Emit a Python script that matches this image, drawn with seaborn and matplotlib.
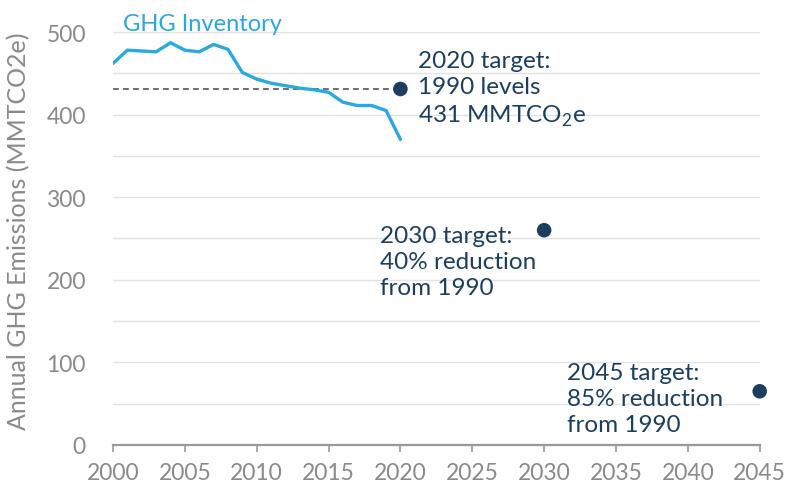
import numpy as np
import pandas as pd
import matplotlib
matplotlib.use("Agg")
import matplotlib.pyplot as plt
from matplotlib import font_manager
import seaborn as sns

# inventario anual
anos = list(range(2000, 2021))
inventario = [462, 478, 477, 476, 487, 478, 476, 485, 479, 451, 443,
              438, 435, 432, 430, 427, 415, 411, 411, 405, 370]

# metas
meta_anos = [2020, 2030, 2045]
meta_valores = [431, 260, 65]
meta_textos = ["2020 target:\n1990 levels\n431 MMTCO$_\\mathregular{2}$e",
               "2030 target:\n40% reduction\nfrom 1990",
               "2045 target:\n85% reduction\nfrom 1990"]
nivel_1990 = 431

azul = "#29a9df"
marinho = "#1c3f60"
cinza = "#8a8a8a"

sns.set_style("white")
plt.rcParams["font.family"] = ["Lato", "DejaVu Sans"]
plt.rcParams["mathtext.fontset"] = "custom"
plt.rcParams["mathtext.rm"] = "Lato"

# fonte estreita p/ os ticks, se existir
nomes = {f.name for f in font_manager.fontManager.ttflist}
fonte_tick = "Liberation Sans Narrow" if "Liberation Sans Narrow" in nomes else "Lato"
tam_tick = 18 if fonte_tick != "Lato" else 16.5

df = pd.DataFrame({"ano": anos, "ghg": inventario})
df_meta = pd.DataFrame({"ano": meta_anos, "valor": meta_valores})

fig = plt.figure(figsize=(7.93, 4.89), dpi=100)
ax = fig.add_axes([0.1425, 0.088, 0.8155, 0.8445])

# grade horizontal a cada 50
for v in range(50, 501, 50):
    ax.axhline(v, color="#e3e3e3", lw=1, zorder=0)

# linha do nivel de 1990
ax.plot([2000, 2020], [nivel_1990, nivel_1990], ls=(0, (3.5, 2.5)), color="#555555", lw=1.2, zorder=1)

sns.lineplot(data=df, x="ano", y="ghg", color=azul, lw=2.4, ax=ax, zorder=3)
sns.scatterplot(data=df_meta, x="ano", y="valor", color=marinho, s=110, edgecolor="none",
                ax=ax, zorder=4, clip_on=False)

ax.text(2000.7, 503, "GHG Inventory", color=azul, fontsize=17, va="baseline", ha="left")

# textos das metas (posicoes em anos / valores)
ax.text(2021.2, 431, meta_textos[0], color=marinho, fontsize=17.5, va="center", ha="left", linespacing=1.3)
ax.text(2018.6, 222, meta_textos[1], color=marinho, fontsize=17.5, va="center", ha="left", linespacing=1.3)
ax.text(2031.6, 56, meta_textos[2], color=marinho, fontsize=17.5, va="center", ha="left", linespacing=1.3)

ax.set_xlim(2000, 2045)
ax.set_ylim(0, 500)
ax.set_xticks(range(2000, 2046, 5))
ax.set_yticks(range(0, 501, 100))
ax.tick_params(axis="x", bottom=True, direction="out", length=5, width=1.2, color="#999999",
               labelsize=tam_tick, labelcolor=cinza, pad=7, labelfontfamily=fonte_tick)
ax.tick_params(axis="y", length=0, labelsize=tam_tick, labelcolor=cinza, pad=19.5,
               labelfontfamily=fonte_tick)

for s in ["top", "right", "left"]:
    ax.spines[s].set_visible(False)
ax.spines["bottom"].set_color("#999999")
ax.spines["bottom"].set_linewidth(1.6)

ax.set_xlabel("")
ax.set_ylabel("Annual GHG Emissions (MMTCO2e)", fontsize=18, color=cinza)
ax.yaxis.set_label_coords(-0.128, 0.52)

fig.savefig("out.png", dpi=100)
